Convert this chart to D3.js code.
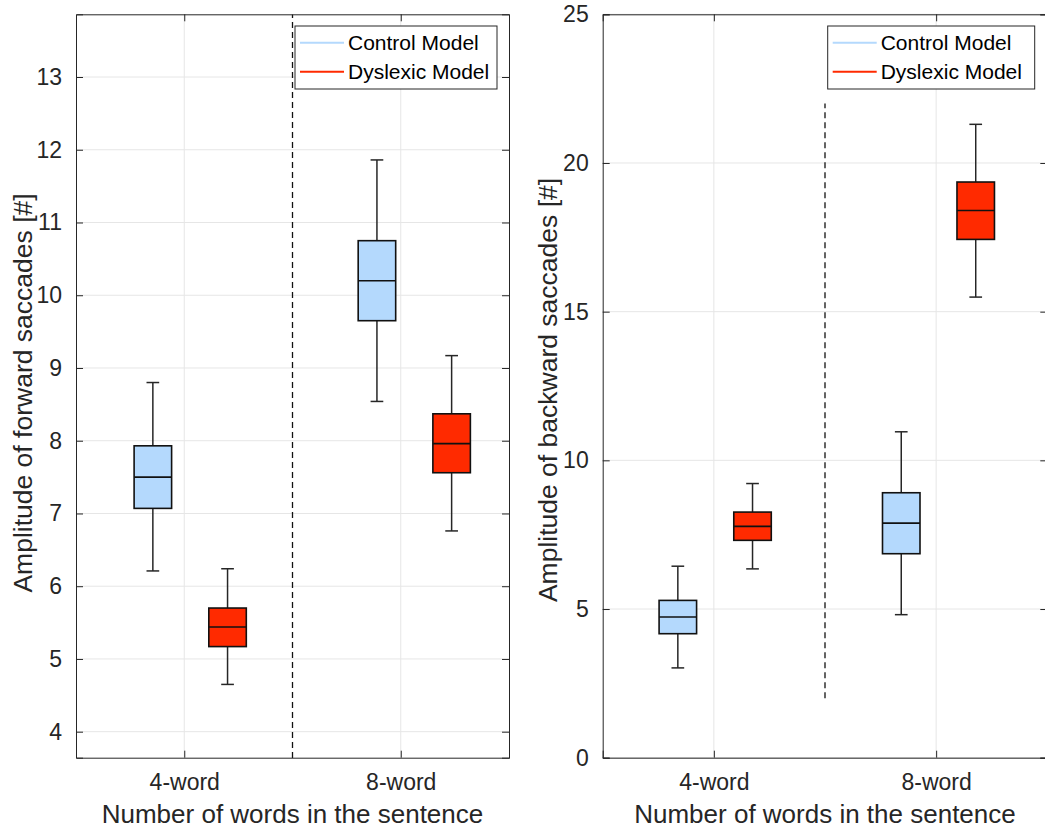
<!DOCTYPE html>
<html><head><meta charset="utf-8">
<script src="https://cdn.jsdelivr.net/npm/d3@7"></script>
<style>body{margin:0;background:#fff;} svg{display:block;font-family:"Liberation Sans",Arial,sans-serif;}</style>
</head><body>
<svg id="c" width="1045" height="833"></svg>
<script>
// ---- data ----
const categories = ["4-word", "8-word"];
const seriesNames = ["Control Model", "Dyslexic Model"];
// [lowerWhisker, q1, median, q3, upperWhisker] per category
const forwardControl  = [[6.21, 7.07, 7.50, 7.93, 8.80], [8.54, 9.65, 10.20, 10.75, 11.86]];
const forwardDyslexic = [[4.65, 5.17, 5.44, 5.70, 6.24], [6.76, 7.56, 7.96, 8.37, 9.17]];
const backwardControl  = [[3.02, 4.17, 4.73, 5.29, 6.44], [4.81, 6.86, 7.89, 8.91, 10.96]];
const backwardDyslexic = [[6.35, 7.31, 7.78, 8.26, 9.22], [15.49, 17.43, 18.40, 19.36, 21.30]];
const forwardTicks  = [4, 5, 6, 7, 8, 9, 10, 11, 12, 13];
const backwardTicks = [0, 5, 10, 15, 20, 25];
const forwardDivider  = [3.64, 13.86];
const backwardDivider = [2, 22];

// ---- styles ----
const colors = ["#b4d9fd", "#ff2a00"];
const ink = "#262626";
const svg = d3.select("#c");

function panel(cfg) {
  const x = d3.scaleLinear().domain([0.5, 2.5]).range([cfg.left, cfg.right]);
  const y = d3.scaleLinear().domain(cfg.ydomain).range([cfg.bottom, cfg.top]);
  const g = svg.append("g");
  // grid
  g.selectAll(".gy").data(cfg.ticks).enter().append("line")
    .attr("x1", cfg.left).attr("x2", cfg.right)
    .attr("y1", d => y(d)).attr("y2", d => y(d))
    .attr("stroke", "#e6e6e6").attr("stroke-width", 1);
  g.selectAll(".gx").data([1, 2]).enter().append("line")
    .attr("x1", d => x(d)).attr("x2", d => x(d))
    .attr("y1", cfg.top).attr("y2", cfg.bottom)
    .attr("stroke", "#e6e6e6").attr("stroke-width", 1);
  // divider
  g.append("line").attr("x1", x(1.5)).attr("x2", x(1.5))
    .attr("y1", y(cfg.divider[0])).attr("y2", y(cfg.divider[1]))
    .attr("stroke", "#111").attr("stroke-width", 1.3).attr("stroke-dasharray", "6,4");
  // boxes
  cfg.series.forEach((ser, si) => {
    ser.forEach((b, ci) => {
      const cx = x(ci + 1 + cfg.offsets[si][ci]);
      const bw = 37.5, cap = 12.7;
      const bg = g.append("g");
      bg.append("line").attr("x1", cx).attr("x2", cx).attr("y1", y(b[4])).attr("y2", y(b[3]))
        .attr("stroke", ink).attr("stroke-width", 1.5);
      bg.append("line").attr("x1", cx).attr("x2", cx).attr("y1", y(b[1])).attr("y2", y(b[0]))
        .attr("stroke", ink).attr("stroke-width", 1.5);
      bg.append("line").attr("x1", cx - cap/2).attr("x2", cx + cap/2).attr("y1", y(b[4])).attr("y2", y(b[4]))
        .attr("stroke", ink).attr("stroke-width", 1.5);
      bg.append("line").attr("x1", cx - cap/2).attr("x2", cx + cap/2).attr("y1", y(b[0])).attr("y2", y(b[0]))
        .attr("stroke", ink).attr("stroke-width", 1.5);
      bg.append("rect").attr("x", cx - bw/2).attr("width", bw)
        .attr("y", y(b[3])).attr("height", y(b[1]) - y(b[3]))
        .attr("fill", colors[si]).attr("stroke", "#111").attr("stroke-width", 1.6);
      bg.append("line").attr("x1", cx - bw/2).attr("x2", cx + bw/2).attr("y1", y(b[2])).attr("y2", y(b[2]))
        .attr("stroke", "#111").attr("stroke-width", 1.6);
    });
  });
  // axes
  const yAx = g.append("g").attr("transform", `translate(${cfg.left},0)`)
    .call(d3.axisLeft(y).tickValues(cfg.ticks).tickSize(-7).tickPadding(14).tickFormat(d3.format("d")));
  const yAxR = g.append("g").attr("transform", `translate(${cfg.right},0)`)
    .call(d3.axisRight(y).tickValues(cfg.ticks).tickSize(-7).tickFormat(""));
  const xAx = g.append("g").attr("transform", `translate(0,${cfg.bottom})`)
    .call(d3.axisBottom(x).tickValues([1, 2]).tickSize(-7).tickPadding(16).tickFormat(d => categories[d - 1]));
  const xAxT = g.append("g").attr("transform", `translate(0,${cfg.top})`)
    .call(d3.axisTop(x).tickValues([1, 2]).tickSize(-7).tickFormat(""));
  [yAx, yAxR, xAx, xAxT].forEach(a => {
    a.select(".domain").attr("stroke", ink).attr("stroke-width", 1);
    a.selectAll(".tick line").attr("stroke", ink);
    a.selectAll("text").attr("fill", ink).style("font-size", "23px").style("font-family", "Liberation Sans, Arial, sans-serif");
  });
  // axis labels
  g.append("text").attr("x", (cfg.left + cfg.right) / 2).attr("y", 823)
    .attr("text-anchor", "middle").attr("fill", ink).style("font-size", "26px")
    .text("Number of words in the sentence");
  g.append("text").attr("transform", `translate(${cfg.ylabX},${cfg.ylabY}) rotate(-90)`)
    .attr("text-anchor", "middle").attr("fill", ink).style("font-size", "26.5px")
    .text(cfg.ylabel);
  // legend
  const lg = g.append("g").attr("transform", `translate(${cfg.legX},26)`);
  lg.append("rect").attr("width", cfg.legW).attr("height", 63).attr("fill", "#fff")
    .attr("stroke", ink).attr("stroke-width", 1);
  seriesNames.forEach((n, i) => {
    const yy = 16.7 + i * 29;
    lg.append("line").attr("x1", 5).attr("x2", 49).attr("y1", yy).attr("y2", yy)
      .attr("stroke", colors[i]).attr("stroke-width", 2);
    lg.append("text").attr("x", 53).attr("y", yy + 7.5).attr("fill", "#000")
      .style("font-size", "21px").text(n);
  });
}

panel({
  left: 76, right: 509, top: 14.3, bottom: 757.7,
  ydomain: [3.6426, 13.862], ticks: forwardTicks, divider: forwardDivider,
  series: [forwardControl, forwardDyslexic],
  offsets: [[-0.145, -0.11], [0.2, 0.235]],
  ylabel: "Amplitude of forward saccades [#]", ylabX: 32, ylabY: 393,
  legX: 295, legW: 202
});
panel({
  left: 602.7, right: 1047.3, top: 14.3, bottom: 757.7,
  ydomain: [0, 25], ticks: backwardTicks, divider: backwardDivider,
  series: [backwardControl, backwardDyslexic],
  offsets: [[-0.162, -0.157], [0.174, 0.178]],
  ylabel: "Amplitude of backward saccades [#]", ylabX: 557, ylabY: 390,
  legX: 827.7, legW: 207
});
</script>
</body></html>
